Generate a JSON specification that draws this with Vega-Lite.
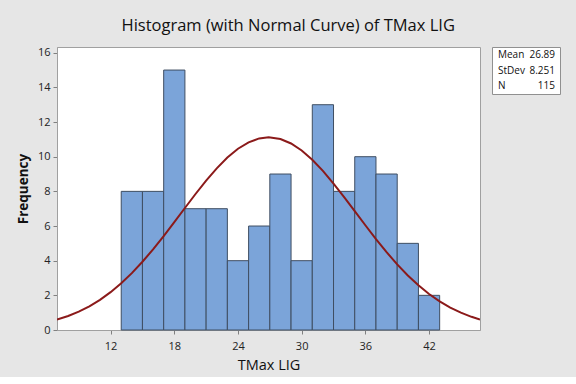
{
  "$schema": "https://vega.github.io/schema/vega-lite/v6.json",
  "background": "#e6e6e6",
  "padding": {"left": 15, "top": 17, "right": 20, "bottom": 5},
  "title": {
    "text": "Histogram (with Normal Curve) of TMax LIG",
    "font": "Open Sans",
    "fontSize": 16.5,
    "fontWeight": "normal",
    "color": "#111111",
    "anchor": "middle",
    "offset": 12
  },
  "datasets": {
    "bins": [
      {"start": 13, "end": 15, "count": 8},
      {"start": 15, "end": 17, "count": 8},
      {"start": 17, "end": 19, "count": 15},
      {"start": 19, "end": 21, "count": 7},
      {"start": 21, "end": 23, "count": 7},
      {"start": 23, "end": 25, "count": 4},
      {"start": 25, "end": 27, "count": 6},
      {"start": 27, "end": 29, "count": 9},
      {"start": 29, "end": 31, "count": 4},
      {"start": 31, "end": 33, "count": 13},
      {"start": 33, "end": 35, "count": 8},
      {"start": 35, "end": 37, "count": 10},
      {"start": 37, "end": 39, "count": 9},
      {"start": 39, "end": 41, "count": 5},
      {"start": 41, "end": 43, "count": 2}
    ],
    "curve": [
      {"x": 6.95, "y": 0.600}, {"x": 8, "y": 0.809}, {"x": 9, "y": 1.060}, {"x": 10, "y": 1.368},
      {"x": 11, "y": 1.741}, {"x": 12, "y": 2.183}, {"x": 13, "y": 2.696}, {"x": 14, "y": 3.282},
      {"x": 15, "y": 3.937}, {"x": 16, "y": 4.654}, {"x": 17, "y": 5.422}, {"x": 18, "y": 6.224},
      {"x": 19, "y": 7.039}, {"x": 20, "y": 7.847}, {"x": 21, "y": 8.619}, {"x": 22, "y": 9.329},
      {"x": 23, "y": 9.950}, {"x": 24, "y": 10.458}, {"x": 25, "y": 10.832}, {"x": 26, "y": 11.055},
      {"x": 26.89, "y": 11.12}, {"x": 28, "y": 11.020}, {"x": 29, "y": 10.762}, {"x": 30, "y": 10.357},
      {"x": 31, "y": 9.823}, {"x": 32, "y": 9.179}, {"x": 33, "y": 8.453}, {"x": 34, "y": 7.671},
      {"x": 35, "y": 6.860}, {"x": 36, "y": 6.045}, {"x": 37, "y": 5.249}, {"x": 38, "y": 4.492},
      {"x": 39, "y": 3.787}, {"x": 40, "y": 3.147}, {"x": 41, "y": 2.577}, {"x": 42, "y": 2.079},
      {"x": 43, "y": 1.653}, {"x": 44, "y": 1.295}, {"x": 45, "y": 1.000}, {"x": 46, "y": 0.761},
      {"x": 46.8, "y": 0.605}
    ],
    "stats": [
      {"stat": "Mean", "value": "26.89", "order": 1},
      {"stat": "StDev", "value": "8.251", "order": 2},
      {"stat": "N", "value": "115", "order": 3}
    ]
  },
  "spacing": 10,
  "config": {
    "view": {"stroke": "#a0a0a0", "fill": "white"},
    "axis": {
      "labelFont": "Open Sans",
      "labelFontSize": 11,
      "labelColor": "#222222",
      "titleFont": "Open Sans",
      "titleColor": "#111111",
      "domainColor": "#a0a0a0",
      "tickColor": "#808080",
      "tickSize": 4,
      "grid": false,
      "labelOverlap": false
    }
  },
  "hconcat": [
    {
      "width": 423,
      "height": 283,
      "encoding": {
        "x": {
          "type": "quantitative",
          "scale": {"domain": [6.95, 46.8], "nice": false, "zero": false},
          "axis": {"values": [12, 18, 24, 30, 36, 42], "title": "TMax LIG", "titleFontSize": 14.5, "titleFontWeight": "normal", "labelPadding": 6, "titlePadding": 7}
        },
        "y": {
          "type": "quantitative",
          "scale": {"domain": [0, 16.33], "nice": false},
          "axis": {"values": [0, 2, 4, 6, 8, 10, 12, 14, 16], "title": "Frequency", "titleFontSize": 13.5, "titleFontWeight": "bold", "labelPadding": 3, "titlePadding": 7}
        }
      },
      "layer": [
        {
          "data": {"name": "bins"},
          "mark": {"type": "rect", "fill": "#7ba4d9", "stroke": "#3f4e62", "strokeWidth": 1},
          "encoding": {
            "x": {"field": "start", "type": "quantitative", "scale": {"domain": [6.95, 46.8], "nice": false, "zero": false}, "axis": {"values": [12, 18, 24, 30, 36, 42], "title": "TMax LIG", "titleFontSize": 14.5, "titleFontWeight": "normal", "labelPadding": 6, "titlePadding": 7}},
            "x2": {"field": "end"},
            "y": {"field": "count", "type": "quantitative", "scale": {"domain": [0, 16.33], "nice": false}, "axis": {"values": [0, 2, 4, 6, 8, 10, 12, 14, 16], "title": "Frequency", "titleFontSize": 13.5, "titleFontWeight": "bold", "labelPadding": 3, "titlePadding": 7}},
            "y2": {"datum": 0}
          }
        },
        {
          "data": {"name": "curve"},
          "mark": {"type": "line", "color": "#8b1a1a", "strokeWidth": 2, "clip": true},
          "encoding": {
            "x": {"field": "x", "type": "quantitative"},
            "y": {"field": "y", "type": "quantitative"}
          }
        }
      ]
    },
    {
      "width": 68,
      "height": 47,
      "view": {"stroke": "#909090", "fill": "white"},
      "data": {"name": "stats"},
      "encoding": {
        "y": {"field": "stat", "type": "nominal", "sort": {"field": "order"}, "axis": null, "scale": {"paddingOuter": 0.25}}
      },
      "layer": [
        {
          "mark": {"type": "text", "align": "left", "dx": -28, "font": "Open Sans", "fontSize": 10, "color": "#111111"},
          "encoding": {"text": {"field": "stat"}}
        },
        {
          "mark": {"type": "text", "align": "right", "dx": 29, "font": "Open Sans", "fontSize": 10, "color": "#111111"},
          "encoding": {"text": {"field": "value"}}
        }
      ]
    }
  ]
}
